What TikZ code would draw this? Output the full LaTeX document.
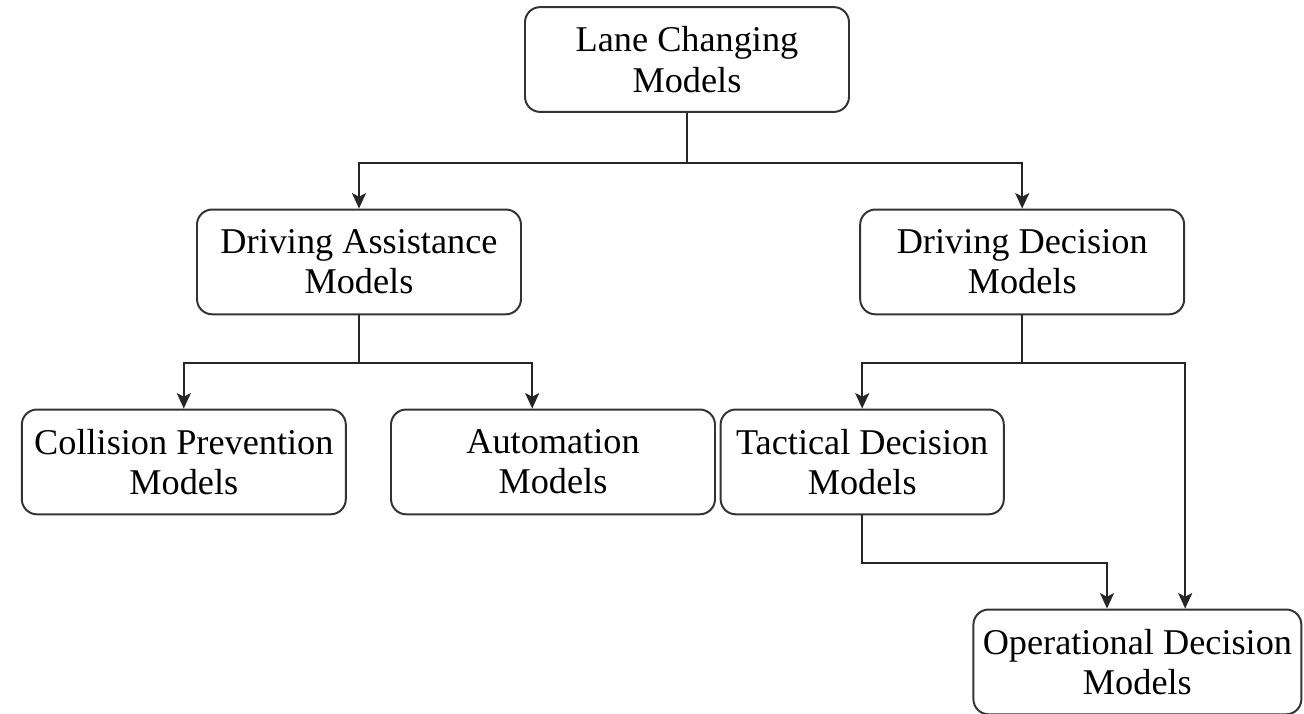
\documentclass[tikz,border=0pt]{standalone}
\usepackage{fontspec}
\setmainfont{Liberation Serif}
\usepackage{tikz}
\usetikzlibrary{shapes,arrows.meta,positioning,calc}
\tikzstyle{model} = [rectangle, rounded corners=0.19cm, minimum width=4.05cm, minimum height=1.31cm, align=center, draw=black!80, line width=0.7pt, font=\fontsize{12.9}{14.3}\selectfont]
\tikzstyle{arrow} = [line width=0.7pt, draw=black!85, -{Stealth[length=5.5pt, width=5pt, inset=1.3pt]}]

\begin{document}
\begin{tikzpicture}[node distance=2.5cm]
    \useasboundingbox (0,0) rectangle (16.3,-8.925);
    % Nodes
    \node (lane) [model] at (8.5875,-0.744) {Lane Changing\\Models};
    \node (assist) [model, below of=lane, xshift=-4.1cm, yshift=-0.03cm] {Driving Assistance\\Models};
    \node (decide) [model, below of=lane, xshift=4.19cm, yshift=-0.03cm] {Driving Decision\\Models};
    \node (collision) [model, below of=assist, xshift=-2.19cm] {Collision Prevention\\Models};
    \node (auto) [model, below of=assist, xshift=2.425cm] {Automation\\Models};
    \node (tactical) [model, minimum width=3.54cm, below of=decide, xshift=-2cm] {Tactical Decision\\Models};
    \node (oper) [model, below of=tactical, xshift=3.44cm] {Operational Decision\\Models};

    % Arrows
    \draw [arrow] (lane.south) -- ++(0,-0.625) -| (assist.north);
    \draw [arrow] (lane.south) -- ++(0,-0.625) -| (decide.north);
    \draw [arrow] (assist.south) -- ++(0,-0.6) -| (collision.north);
    \draw [arrow] (assist.south) -- ++(0,-0.6) -| ($(auto.north)+(-0.26,0)$);
    \draw [arrow] (decide.south) -- ++(0,-0.6) -| (tactical.north);
    \draw [arrow] (decide.south) -- ++(0,-0.6) -| (decide.east |- oper.north);
    \draw [arrow] (tactical.south) -- ++(0,-0.6) -| ($(oper.north)+(-0.38,0)$);

\end{tikzpicture}
\end{document}
